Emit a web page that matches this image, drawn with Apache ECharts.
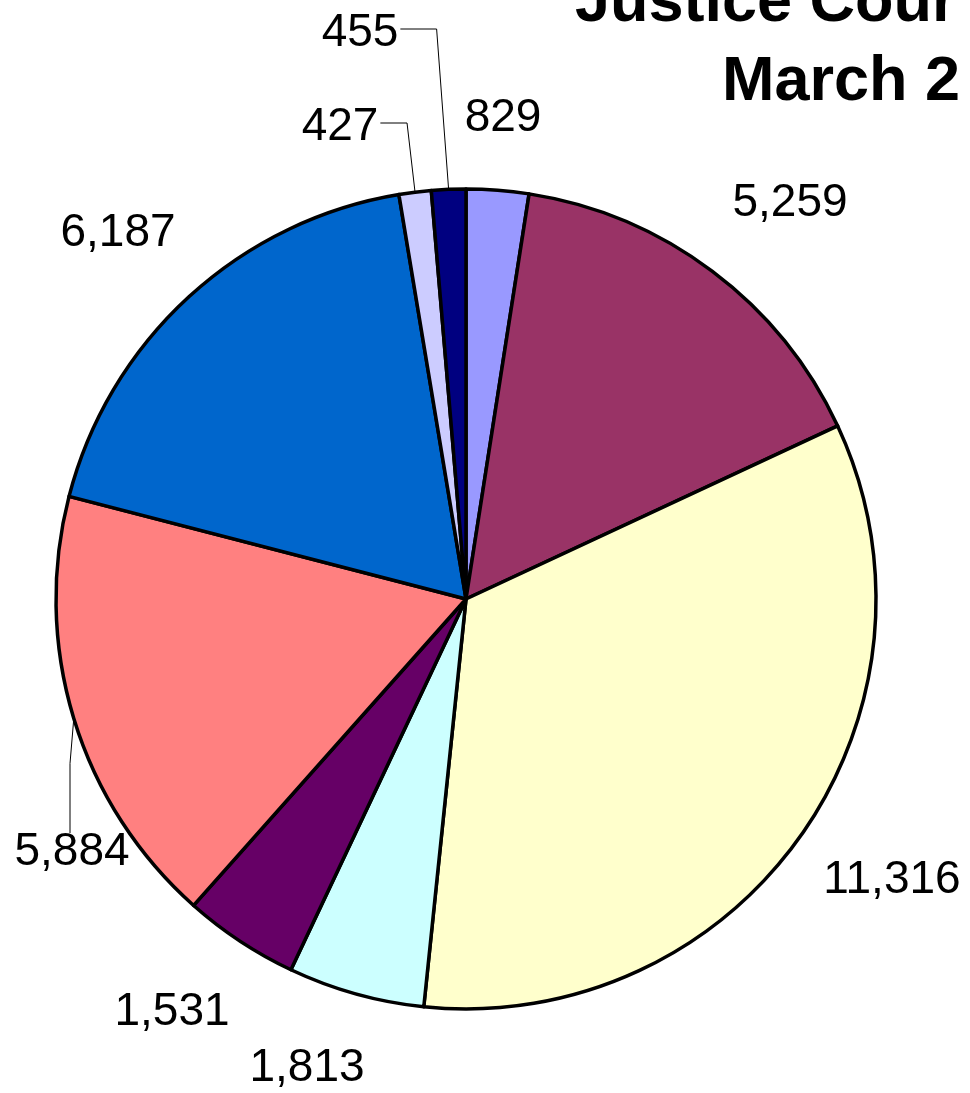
<!DOCTYPE html>
<html>
<head>
<meta charset="utf-8">
<script src="https://cdn.jsdelivr.net/npm/echarts@6/dist/echarts.min.js"></script>
<style>
  html, body { margin: 0; padding: 0; background: #fff; }
  #chart { width: 970px; height: 1093px; }
</style>
</head>
<body>
<div id="chart"></div>
<script>
// slice values, clockwise from 12 o'clock
var values = [829, 5259, 11316, 1813, 1531, 5884, 6187, 427, 455];
var colors = ['#9999FF', '#993366', '#FFFFCC', '#CCFFFF', '#660066', '#FF8080', '#0066CC', '#CCCCFF', '#000080'];
var titleLines = ['Justice Cour', 'March 2'];
// label centres (x, y) as placed in the picture
var labelPos = [[503, 118], [790, 203], [892, 880], [307, 1068], [172, 1012], [72, 852], [118, 233], [340, 127], [360, 33]];
var withLeader = [5, 7, 8];

var myChart = echarts.init(document.getElementById('chart'));

function fmt(v) {
	return v.toString().replace(/\B(?=(\d{3})+(?!\d))/g, ',');
}

var option = {
	animation: false,
	title: [{
		text: titleLines[0],
		left: 575,
		top: -28,
		padding: 0,
		textStyle: { fontFamily: 'Liberation Sans', fontWeight: 'bold', fontSize: 63, color: '#000' }
	}, {
		text: titleLines[1],
		left: 722,
		top: 51,
		padding: 0,
		textStyle: { fontFamily: 'Liberation Sans', fontWeight: 'bold', fontSize: 63, color: '#000' }
	}],
	series: [{
		type: 'pie',
		center: [466, 599],
		radius: 410,
		startAngle: 90,
		clockwise: true,
		avoidLabelOverlap: false,
		itemStyle: {
			borderColor: '#000',
			borderWidth: 3.5
		},
		label: {
			show: true,
			position: 'outside',
			fontFamily: 'Liberation Sans',
			fontSize: 46,
			color: '#000',
			formatter: function(p) { return fmt(p.value); }
		},
		labelLine: {
			show: false,
			length: 20,
			length2: 20,
			lineStyle: { color: '#000', width: 1 }
		},
		labelLayout: function(p) {
			var i = p.dataIndex;
			var pos = labelPos[i];
			var res = { x: pos[0], y: pos[1], align: 'center', verticalAlign: 'middle' };
			if (withLeader.indexOf(i) >= 0 && p.labelLinePoints) {
				var s = p.labelLinePoints[0];
				var w = p.labelRect.width, h = p.labelRect.height;
				if (i === 5) {
					// elbow straight above the label
					res.labelLinePoints = [[pos[0] - 2, pos[1] - h / 2 + 4], [pos[0] - 2, s[1] + 45], s];
				} else {
					var off = i === 8 ? 12 : 8;
					res.labelLinePoints = [[pos[0] + w / 2 + 2, pos[1] - 4], [s[0] - off, pos[1] - 4], s];
				}
			}
			return res;
		},
		data: values.map(function(v, i) {
			return {
				value: v,
				itemStyle: { color: colors[i] },
				labelLine: { show: withLeader.indexOf(i) >= 0 }
			};
		})
	}]
};
myChart.setOption(option);
</script>
</body>
</html>
